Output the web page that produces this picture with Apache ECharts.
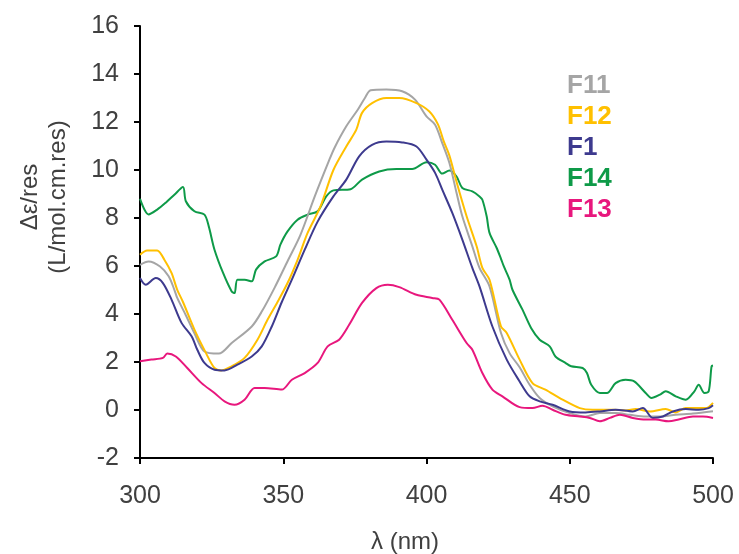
<!DOCTYPE html>
<html>
<head>
<meta charset="utf-8">
<script src="https://cdn.jsdelivr.net/npm/echarts@6/dist/echarts.min.js"></script>
<style>
html,body{margin:0;padding:0;background:#fff;}
#c{width:739px;height:554px;}
</style>
</head>
<body>
<div id="c"></div>
<script>
// ---- data ----
const seriesNames = ['F11', 'F12', 'F1', 'F14', 'F13'];
const seriesColors = ['#A5A5A5', '#FFC000', '#3D3A8E', '#0E9A48', '#E8177D'];

const xTicks = [300, 350, 400, 450, 500];
const yTicks = [-2, 0, 2, 4, 6, 8, 10, 12, 14, 16];

const f11X = [300,303,307,310,312,313,316,319,322.5,327.5,332,339,342.5,347,351.5,356,361,366,368,372,376,378.5,380.5,386,391.5,396,400,403,405.5,408,410.5,412.5,416,418.5,422,426,429,432.5,436,439.5,444,450,455.5,460.5,466,471,476.5,481.5,487,493,500];
const f11Y = [6.05,6.19,5.98,5.57,5.01,4.67,3.95,3.2,2.44,2.35,2.79,3.48,4.1,5.1,6.2,7.3,8.9,10.4,10.95,11.82,12.51,13.0,13.32,13.35,13.28,12.93,12.23,11.89,11.12,10.29,9.04,8.07,6.82,5.92,5.15,3.21,2.37,1.78,1.05,0.5,0.15,-0.13,-0.27,-0.13,-0.13,-0.2,-0.27,-0.27,-0.2,-0.15,-0.05];

const f12X = [300,302.5,306,308.5,311,313,315,319,323,326,328.3,332,336.5,341,344.5,348,351.5,355,358.5,363,367.5,372,375.5,377.5,381,386,390.5,396.5,401,404,406,408,410.5,414,417.5,419.5,422,426,428,432.5,437,441.5,447.5,453.5,458,465,469.5,473,478,483.5,487,490.5,495,497.5,500];
const f12Y = [6.47,6.65,6.65,6.26,5.71,5.01,4.5,3.35,2.38,1.75,1.65,1.82,2.17,2.93,3.76,4.5,5.29,6.26,7.38,8.48,10.0,10.98,11.68,12.38,12.79,13.0,13.0,12.79,12.44,11.9,11.2,10.6,9.5,8.07,6.82,5.92,5.43,3.48,3.21,2.1,1.12,0.85,0.43,0.08,0.01,0.01,-0.02,0.04,-0.06,0.04,-0.1,0.08,0.08,0.08,0.3];

const f1X = [300,302,305.5,308,311,314.5,318,320,322.5,326,329.5,334,339,342.5,346,349.5,353,357.5,362,367.5,372,376.5,381,386,391.5,396.5,400,403,405.5,409,412.5,416,418.5,423,428,432.5,436,439.5,444,450,455.5,460.5,466,472,475.5,479,482.5,486,490.5,495,498.5,500];
const f1Y = [5.5,5.22,5.5,5.29,4.6,3.63,3.07,2.51,1.96,1.68,1.65,1.89,2.23,2.65,3.48,4.5,5.43,6.68,7.85,8.9,9.6,10.57,11.05,11.19,11.15,10.98,10.43,9.88,9.18,8.21,7.1,5.92,5.15,3.48,2.1,1.19,0.57,0.36,0.22,-0.06,-0.1,-0.06,0.01,-0.06,0.08,-0.33,-0.27,-0.06,0.04,0.01,0.08,0.2];

const f14X = [300,303,306,309,312,315,316,319,322.5,324,326,329,332,333,334,336.5,339,340.5,343.5,347.5,349,351.5,355,358.5,362,365,367.5,373.5,377.5,383.5,389.5,395,400,403,405.5,408,410.5,412.5,416,418.5,419.5,421,422,424.5,426,427,429,430,433.5,436.5,439.5,443,445,448.5,450.5,454.5,456,457.5,460.5,463,466,469.5,472.5,476.5,478.5,481.5,483.5,487,490.5,493.5,495,497,498.5,499.5,500];
const f14Y = [8.8,8.15,8.35,8.64,8.97,9.29,8.7,8.28,8.14,7.65,6.68,5.71,4.94,4.87,5.43,5.43,5.36,5.85,6.19,6.4,6.89,7.44,7.93,8.14,8.28,8.9,9.15,9.2,9.6,9.94,10.04,10.04,10.32,10.22,9.85,9.98,9.73,9.25,9.11,8.9,8.76,8.07,7.38,6.75,6.3,5.98,5.43,5.01,4.18,3.42,2.93,2.65,2.23,1.96,1.82,1.75,1.54,1.05,0.71,0.71,1.12,1.26,1.19,0.71,0.5,0.64,0.78,0.57,0.43,0.78,1.05,0.71,0.78,1.82,1.85];

const f13X = [300,304,308,309.5,312.5,316.5,321.5,326,329.5,333,336.5,340,343.5,349.5,353,357.5,362,365.5,369.5,373,377.5,382.5,386.5,390.5,396.5,402,404.5,409,414,416,419.5,423,426.5,432.5,437,440.5,444,448.5,453.5,457,460.5,464,467.5,472,476.5,480,484.5,488,493,496.5,500];
const f13Y = [2.03,2.1,2.17,2.35,2.23,1.75,1.12,0.71,0.36,0.22,0.43,0.92,0.92,0.85,1.26,1.54,1.96,2.65,2.93,3.55,4.46,5.08,5.22,5.12,4.8,4.67,4.6,3.76,2.79,2.51,1.54,0.85,0.57,0.12,0.08,0.18,0.01,-0.2,-0.27,-0.33,-0.47,-0.33,-0.2,-0.33,-0.4,-0.4,-0.47,-0.4,-0.27,-0.27,-0.33];

const allX = [f11X, f12X, f1X, f14X, f13X];
const allY = [f11Y, f12Y, f1Y, f14Y, f13Y];

const yTitle1 = 'Δε/res';
const yTitle2 = '(L/mol.cm.res)';
const xTitle = 'λ (nm)';

// ---- chart ----
const FONT = '"Liberation Sans", Arial, sans-serif';
const chart = echarts.init(document.getElementById('c'), null, {renderer: 'canvas'});

const series = seriesNames.map((name, k) => ({
  name: name,
  type: 'line',
  data: allX[k].map((x, i) => [x, allY[k][i]]),
  smooth: 0.3,
  showSymbol: false,
  symbol: 'none',
  lineStyle: {color: seriesColors[k], width: 2},
  itemStyle: {color: seriesColors[k]},
  z: 2 + (k === 3 ? 0 : 1)
}));

chart.setOption({
  animation: false,
  backgroundColor: '#ffffff',
  grid: {left: 140, right: 26, top: 26, bottom: 96, containLabel: false},
  xAxis: {
    type: 'value',
    min: xTicks[0], max: xTicks[xTicks.length - 1], interval: 50,
    axisLine: {onZero: false, lineStyle: {color: '#000', width: 2}},
    axisTick: {show: true, length: 6, lineStyle: {color: '#000', width: 2}},
    splitLine: {show: false},
    axisLabel: {color: '#404040', fontSize: 25, fontFamily: FONT, margin: 26}
  },
  yAxis: {
    type: 'value',
    min: yTicks[0], max: yTicks[yTicks.length - 1], interval: 2,
    axisLine: {show: true, lineStyle: {color: '#000', width: 2}},
    axisTick: {show: true, length: 6, lineStyle: {color: '#000', width: 2}},
    splitLine: {show: false},
    axisLabel: {color: '#404040', fontSize: 25, fontFamily: FONT, margin: 21}
  },
  legend: {
    orient: 'vertical',
    left: 557, top: 68,
    icon: 'none',
    itemWidth: 0, itemHeight: 26, itemGap: 5,
    data: seriesNames.map((n, k) => ({name: n, textStyle: {color: seriesColors[k]}})),
    textStyle: {fontSize: 26, fontWeight: 'bold', fontFamily: FONT, lineHeight: 26}
  },
  graphic: [
    {type: 'text', x: 30, y: 197, rotation: Math.PI / 2,
     style: {text: yTitle1, fill: '#404040', font: '24px ' + FONT, align: 'center', verticalAlign: 'middle'}},
    {type: 'text', x: 58, y: 197, rotation: Math.PI / 2,
     style: {text: yTitle2, fill: '#404040', font: '24px ' + FONT, align: 'center', verticalAlign: 'middle'}},
    {type: 'text', x: 405, y: 542,
     style: {text: xTitle, fill: '#404040', font: '24px ' + FONT, align: 'center', verticalAlign: 'middle'}}
  ],
  series: series
});
</script>
</body>
</html>
